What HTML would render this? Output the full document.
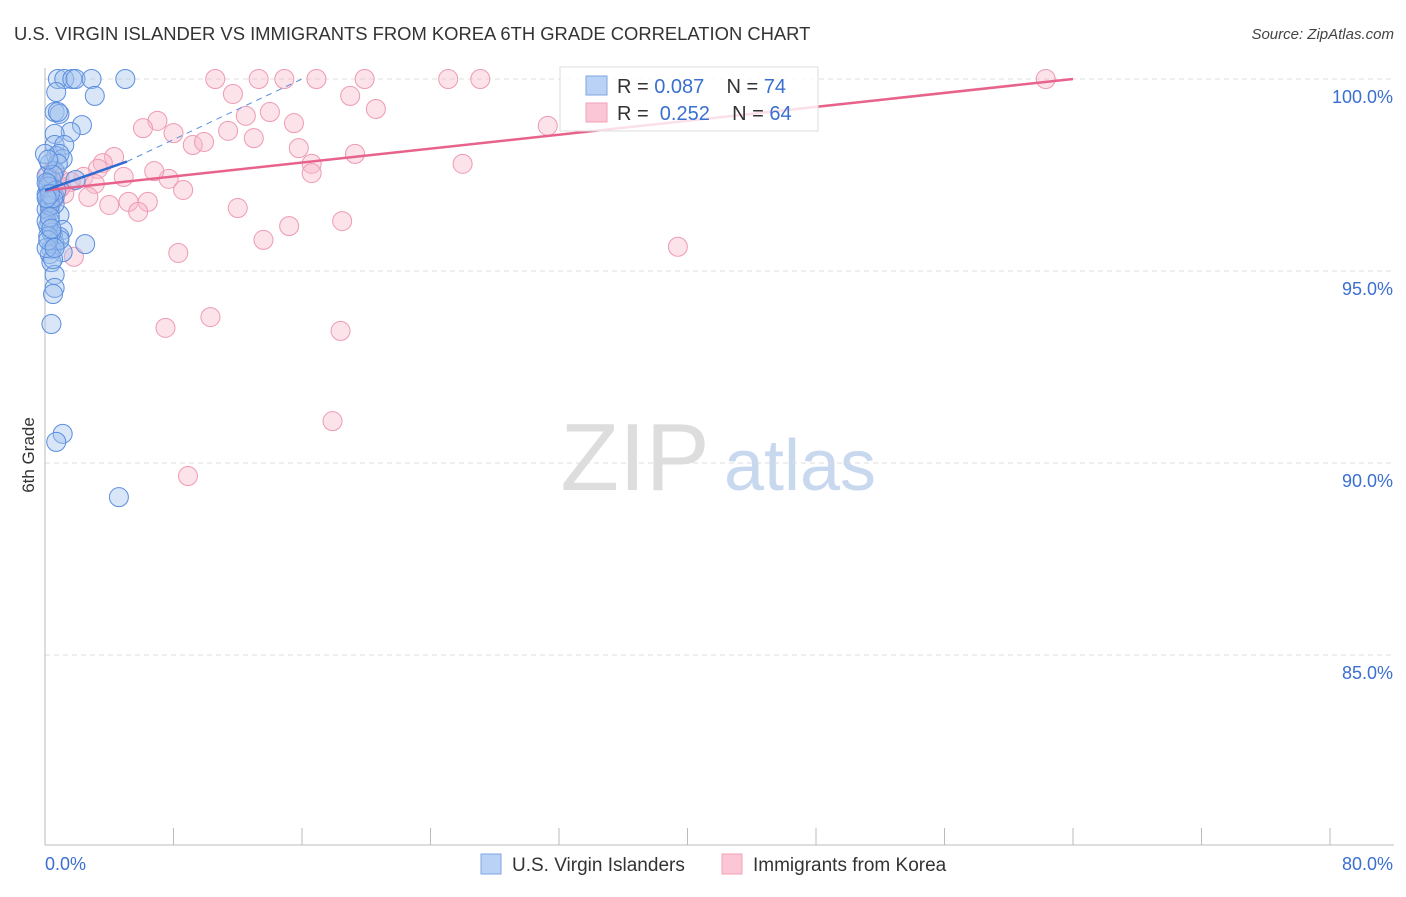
<!DOCTYPE html>
<html><head><meta charset="utf-8"><style>
body{margin:0;background:#fff;font-family:"Liberation Sans",sans-serif;}
svg text{font-family:"Liberation Sans",sans-serif;}
</style></head><body>
<svg id="chart" width="1406" height="892" viewBox="0 0 1406 892" xmlns="http://www.w3.org/2000/svg">
<text x="14" y="40" font-size="18.4" fill="#333">U.S. VIRGIN ISLANDER VS IMMIGRANTS FROM KOREA 6TH GRADE CORRELATION CHART</text>
<text x="1394" y="39" font-size="15" fill="#444" text-anchor="end" font-style="italic">Source: ZipAtlas.com</text>
<text transform="translate(34,455) rotate(-90)" font-size="17" fill="#333" text-anchor="middle">6th Grade</text>
<g><text x="635" y="490" font-size="96" fill="#ddd" text-anchor="middle" font-family="Liberation Serif">ZIP</text><text x="800" y="490" font-size="72" fill="#c8d8ee" text-anchor="middle">atlas</text></g>
<g id="grid"></g><g id="axes"></g><g id="pts"></g><g id="trends"></g>
<g>
<rect x="560" y="67" width="258" height="64" fill="#fff" fill-opacity="0.8" stroke="#ddd"/>
<rect x="586" y="76" width="21" height="19" fill="#b9d2f5" stroke="#7ea6e0"/>
<rect x="586" y="103" width="21" height="19" fill="#fbc7d6" stroke="#f0a0b8"/>
<text x="617" y="93" font-size="20" fill="#333" xml:space="preserve">R = <tspan fill="#3a6fd0">0.087</tspan>    N = <tspan fill="#3a6fd0">74</tspan></text>
<text x="617" y="120" font-size="20" fill="#333" xml:space="preserve">R =  <tspan fill="#3a6fd0">0.252</tspan>    N = <tspan fill="#3a6fd0">64</tspan></text>
</g>
<g>
<rect x="481" y="854" width="20" height="20" fill="#b9d2f5" stroke="#7ea6e0"/>
<text x="512" y="871" font-size="19" fill="#333">U.S. Virgin Islanders</text>
<rect x="722" y="854" width="20" height="20" fill="#fbc7d6" stroke="#f0a0b8"/>
<text x="753" y="871" font-size="19" fill="#333">Immigrants from Korea</text>
</g>
</svg>
<script>
const yTicks=[100,95,90,85];
const xTickLabels=["0.0%","80.0%"];
const blueX=[0.8,1.2,1.7,1.9,2.9,5.0,0.7,3.1,0.6,0.9,0.8,2.3,1.6,0.6,0.6,1.2,0.3,0.7,1.1,0.9,0.6,0.4,1.9,0.3,0.6,0.2,0.3,0.9,0.3,1.1,0.5,0.9,2.5,0.6,0.4,1.1,0.3,0.4,0.6,0.6,0.5,0.4,1.1,0.7,4.6,0.2,0.1,0.2,0.9,0.5,0.1,0.2,0.6,0.8,0.0,0.1,0.3,0.5,0.2,0.4,0.1,0.2,0.3,0.7,0.1,0.3,0.2,0.5,0.1,0.2,0.4,0.3,0.6,0.1];
const blueY=[100,100,100,100,100,100,99.66,99.56,99.14,99.09,99.14,98.8,98.62,98.57,98.28,98.28,97.79,97.99,97.92,98.05,97.6,97.37,97.37,97.06,96.93,96.85,96.54,96.46,96.28,96.07,95.94,95.89,95.7,95.7,95.57,95.49,95.44,95.23,94.9,94.56,94.4,93.62,90.76,90.55,89.11,97.14,96.61,96.17,95.81,95.31,97.47,97.27,96.74,97.79,98.05,97.0,96.8,97.5,97.2,96.0,96.3,95.9,96.7,97.1,95.6,96.4,97.9,96.9,97.3,95.8,96.1,97.0,95.6,96.9];
const pinkX=[10.6,13.3,14.9,16.9,19.9,25.1,27.1,62.3,11.7,19.0,20.6,7.0,6.1,8.0,12.5,14.0,15.5,11.4,13.0,9.2,9.9,15.8,19.3,16.6,16.6,4.3,3.6,3.3,2.4,4.9,7.7,6.8,0.7,3.1,8.6,1.6,2.7,4.0,5.2,6.4,5.8,12.0,18.5,15.2,13.6,26.0,31.3,39.4,8.3,1.8,7.5,10.3,18.4,17.9,8.9,0.9,0.4,1.2,0.9,0.3,0.5,1.0,0.2,0.6];
const pinkY=[100,100,100,100,100,100,100,100,99.61,99.56,99.22,98.91,98.72,98.59,99.04,99.14,98.85,98.65,98.46,98.28,98.36,98.2,98.05,97.79,97.55,97.97,97.81,97.66,97.45,97.45,97.4,97.6,97.27,97.27,97.11,97.32,96.93,96.72,96.8,96.8,96.54,96.64,96.3,96.17,95.81,97.79,98.78,95.63,95.47,95.37,93.52,93.8,93.44,91.09,89.66,97.14,97.01,97.01,97.4,96.74,97.6,97.2,97.5,96.9];
const NS="http://www.w3.org/2000/svg";
const X0=45,X1=1330;
function xs(v){return X0+(v/80)*(X1-X0);}
function ys(v){return 79+(100-v)*38.4;}
function mk(t,a,p){const e=document.createElementNS(NS,t);for(const k in a)e.setAttribute(k,a[k]);document.getElementById(p).appendChild(e);return e;}
yTicks.forEach(t=>{
 const l=mk('line',{x1:45,x2:1394,y1:ys(t),y2:ys(t),stroke:'#ddd','stroke-dasharray':'5,4'},'grid');
 
 
 const tx=mk('text',{x:1393,y:ys(t)+24,'font-size':18,fill:'#3a6fd0','text-anchor':'end'},'grid');
 tx.textContent=t.toFixed(1)+'%';
 
 
});
const ax=mk('line',{x1:45,x2:45,y1:68,y2:845,stroke:'#bbb'},'axes');


const bx=mk('line',{x1:45,x2:1394,y1:845,y2:845,stroke:'#bbb'},'axes');


for(let i=0;i<=10;i++){const t=mk('line',{x1:xs(i*8),x2:xs(i*8),y1:828,y2:845,stroke:'#bbb'},'axes');
 
 }
const l0=mk('text',{x:45,y:870,'font-size':18,fill:'#3a6fd0'},'axes');l0.textContent=xTickLabels[0];


const l1=mk('text',{x:1393,y:870,'font-size':18,fill:'#3a6fd0','text-anchor':'end'},'axes');l1.textContent=xTickLabels[1];


pinkX.forEach((v,i)=>{const c=mk('circle',{cx:xs(v),cy:ys(pinkY[i]),r:9.5,fill:'#f7b6c9','fill-opacity':0.4,stroke:'#ee9ab4','stroke-width':1},'pts');
 
 });
blueX.forEach((v,i)=>{const c=mk('circle',{cx:xs(v),cy:ys(blueY[i]),r:9.5,fill:'#9fc0ee','fill-opacity':0.4,stroke:'#5a8ede','stroke-width':1},'pts');
 
 });
const pt=mk('line',{x1:xs(0),y1:ys(97.1),x2:xs(64),y2:ys(100),stroke:'#e8638c','stroke-width':2.5},'trends');


const bt=mk('line',{x1:xs(0),y1:ys(97.1),x2:xs(5.1),y2:ys(97.85),stroke:'#2f6bd0','stroke-width':2.5},'trends');


const bd=mk('line',{x1:xs(5.1),y1:ys(97.85),x2:xs(16),y2:ys(100),stroke:'#5a8ee0','stroke-width':1,'stroke-dasharray':'6,5'},'trends');


</script>
</body></html>
